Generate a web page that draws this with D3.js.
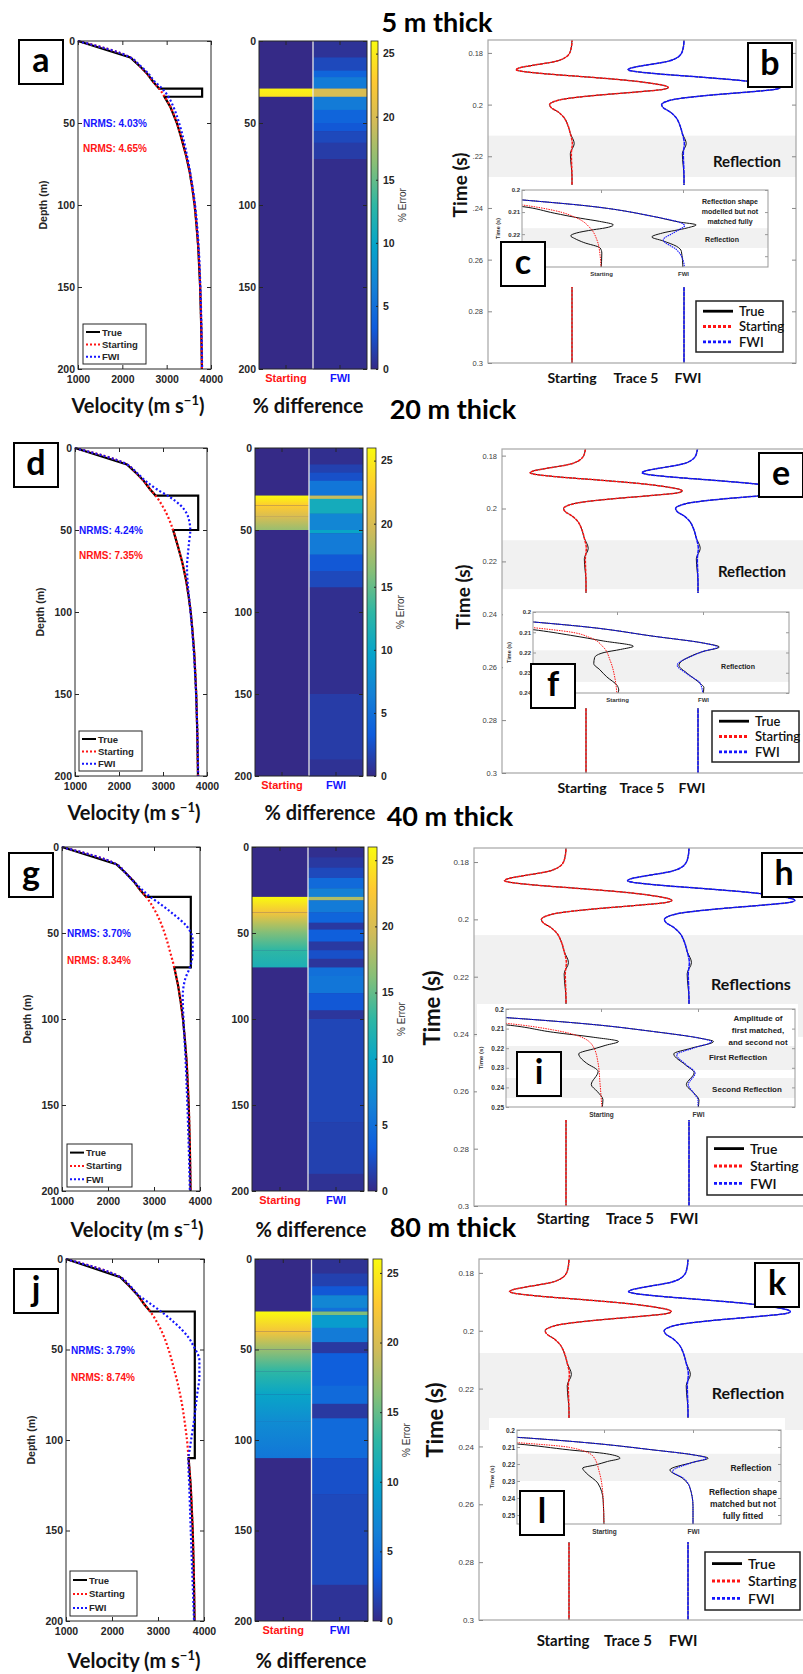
<!DOCTYPE html>
<html>
<head>
<meta charset="utf-8">
<script src="https://cdn.jsdelivr.net/npm/d3@7"></script>
<style>
  body { margin: 0; background: #fff; }
  svg { display: block; }
  .mat { font-family: "Liberation Sans", Arial, sans-serif; }
  .cal { font-family: Lato, "Open Sans", sans-serif; font-weight: 700; }
</style>
</head>
<body>
<div id="fig"></div>
<script>
// ---------- velocity models (depth in m, velocity in m/s) ----------
const startDepth = [0, 10, 15, 20, 25, 29, 35, 40, 50, 60, 70, 80, 90, 100, 110, 125, 150, 175, 200];
const startVel   = [1000, 2180, 2380, 2560, 2700, 2830, 2980, 3080, 3230, 3340, 3440, 3520, 3580, 3630, 3665, 3710, 3755, 3780, 3795];

const trueD5  = [0, 10, 15, 20, 25, 29, 29, 34, 34, 40, 50, 60, 70, 80, 90, 100, 110, 125, 150, 175, 200];
const trueV5  = [1000, 2180, 2380, 2560, 2700, 2830, 3800, 3800, 2950, 3080, 3230, 3340, 3440, 3520, 3580, 3630, 3665, 3710, 3755, 3780, 3795];
const trueD20 = [0, 10, 15, 20, 25, 29, 29, 50, 50, 60, 70, 80, 90, 100, 110, 125, 150, 175, 200];
const trueV20 = [1000, 2180, 2380, 2560, 2700, 2830, 3800, 3800, 3230, 3340, 3440, 3520, 3580, 3630, 3665, 3710, 3755, 3780, 3795];
const trueD40 = [0, 10, 15, 20, 25, 29, 29, 70, 70, 80, 90, 100, 110, 125, 150, 175, 200];
const trueV40 = [1000, 2180, 2380, 2560, 2700, 2830, 3800, 3800, 3440, 3520, 3580, 3630, 3665, 3710, 3755, 3780, 3795];
const trueD80 = [0, 10, 15, 20, 25, 29, 29, 110, 110, 125, 150, 175, 200];
const trueV80 = [1000, 2180, 2380, 2560, 2700, 2830, 3800, 3800, 3665, 3710, 3755, 3780, 3795];

const fwiD5  = [0, 10, 15, 20, 25, 29, 35, 40, 50, 60, 70, 80, 100, 125, 150, 175, 200];
const fwiV5  = [1000, 2180, 2400, 2590, 2740, 2900, 3060, 3150, 3280, 3380, 3460, 3530, 3640, 3720, 3760, 3785, 3800];
const fwiD20 = [0, 10, 15, 20, 25, 30, 35, 40, 45, 50, 58, 65, 72, 80, 93, 110, 133, 160, 200];
const fwiV20 = [1000, 2180, 2400, 2600, 2850, 3160, 3400, 3540, 3600, 3620, 3590, 3565, 3545, 3555, 3600, 3660, 3720, 3765, 3800];
const fwiD40 = [0, 10, 15, 19, 25, 29, 34, 39, 46, 54, 62, 70, 77, 87, 100, 120, 139, 170, 200];
const fwiV40 = [1000, 2180, 2380, 2520, 2750, 2920, 3180, 3420, 3710, 3840, 3840, 3780, 3675, 3625, 3640, 3680, 3710, 3750, 3780];
const fwiD80 = [0, 10, 15, 20, 25, 30, 35, 39, 44, 48, 56, 65, 74, 89, 104, 111, 126, 163, 200];
const fwiV80 = [1000, 2180, 2400, 2576, 2850, 3118, 3350, 3516, 3680, 3770, 3900, 3900, 3856, 3784, 3697, 3660, 3680, 3730, 3784];

const nrmsFwi   = ["4.03%", "4.24%", "3.70%", "3.79%"];
const nrmsStart = ["4.65%", "7.35%", "8.34%", "8.74%"];
const velTicks = [1000, 2000, 3000, 4000];
const depthTicks = [0, 50, 100, 150, 200];

// ---------- % error maps (depth stops / error %) ----------
const startErrD5  = [29, 34];
const startErrV5  = [25.5, 24.5];
const startErrD20 = [29, 35, 42, 50];
const startErrV20 = [26, 23, 20, 17];
const startErrD40 = [29, 38, 50, 60, 70];
const startErrV40 = [26, 22, 16, 13, 11.5];
const startErrD80 = [29, 40, 50, 62, 75, 90, 110];
const startErrV80 = [26, 22, 17, 13, 10, 7.5, 5.5];

const fwiErrD5  = [0, 10, 18, 22, 29, 34, 42, 50, 55, 62, 72];
const fwiErrV5  = [0.6, 2, 4, 6, 20, 6, 4, 3, 2, 1.2, 0.2];
const fwiErrD20 = [0, 10, 15, 20, 29, 31, 40, 50, 52, 65, 75, 85, 150, 190];
const fwiErrV20 = [0.3, 1.5, 2.5, 5.5, 19, 11, 7, 10, 6, 3, 2, 0.3, 1.2, 0.5];
const fwiErrD40 = [0, 6, 12, 18, 24, 29, 31, 38, 44, 48, 55, 60, 65, 70, 75, 85, 95, 100, 160, 190];
const fwiErrV40 = [0.3, 1, 2, 4.5, 6.5, 18, 6, 4, 1, 3.5, 1, 2.5, 0.8, 5, 5.5, 3, 0.8, 1.8, 1.5, 0.5];
const fwiErrD80 = [0, 8, 15, 20, 27, 29, 31, 38, 46, 52, 70, 80, 88, 110, 130, 180];
const fwiErrV80 = [0.5, 1.5, 3, 7, 5, 16, 9, 6, 1, 3.5, 4.5, 1, 4.5, 2.5, 2, 0.6];
const errTicks = [0, 5, 10, 15, 20, 25];
const errMax = 26;

// ---------- trace 5 (time in s, amplitude in trace spacings) ----------
const waveT       = [0.170, 0.1751, 0.179, 0.1815, 0.1835, 0.1848, 0.1858, 0.1865, 0.1871, 0.188, 0.1893, 0.1906, 0.1919, 0.1929, 0.1934, 0.1941, 0.1951, 0.1964, 0.1977, 0.199, 0.2, 0.2012, 0.2028, 0.2048, 0.2074, 0.2112, 0.2151, 0.219, 0.228, 0.3];
const waveAmp     = [0, 0, -0.012, -0.05, -0.17, -0.35, -0.47, -0.5, -0.45, -0.26, 0.13, 0.49, 0.73, 0.845, 0.86, 0.815, 0.58, 0.22, -0.05, -0.17, -0.2, -0.185, -0.125, -0.075, -0.042, -0.015, 0.003, -0.006, 0, 0];
const trueWaveAmp = [0, 0, -0.012, -0.05, -0.17, -0.35, -0.47, -0.5, -0.45, -0.26, 0.13, 0.49, 0.73, 0.845, 0.86, 0.815, 0.58, 0.22, -0.05, -0.17, -0.2, -0.185, -0.125, -0.075, -0.042, -0.015, 0.02, -0.015, 0, 0];
const traceTicks = [0.18, 0.2, 0.22, 0.24, 0.26, 0.28, 0.3];
const traceTickText5 = ["0.18", "0.2", ".22", ".24", "0.26", "0.28", "0.3"];
const insetTicks = [0.2, 0.21, 0.22, 0.23, 0.24, 0.25];

// inset zooms: [time, amplitude]
const insTrueStart5 = [[0.203, -2.4], [0.2075, -0.96], [0.2105, -0.57], [0.2128, -0.25], [0.2142, -0.02], [0.2158, 0.15], [0.2172, 0.05], [0.218, -0.09], [0.2195, -0.3], [0.2208, -0.37], [0.222, -0.32], [0.2238, -0.21], [0.2263, -0.01], [0.2286, 0.01], [0.236, 0]];
const insStart5     = [[0.202, -2.4], [0.2068, -0.96], [0.2093, -0.57], [0.2128, -0.29], [0.2173, -0.13], [0.2226, -0.05], [0.23, -0.01], [0.236, 0]];
const insTrueFwi5   = [[0.2, -3.5], [0.2045, -1.96], [0.2072, -1.17], [0.212, -0.36], [0.2145, -0.05], [0.2158, 0.16], [0.2172, 0.05], [0.2195, -0.25], [0.2213, -0.38], [0.223, -0.25], [0.2255, -0.08], [0.2278, -0.02], [0.236, 0]];
const insFwi5       = [[0.2, -3.5], [0.2045, -1.96], [0.2072, -1.17], [0.212, -0.36], [0.2147, -0.04], [0.2162, 0.02], [0.218, -0.05], [0.2195, -0.12], [0.2226, -0.24], [0.227, -0.08], [0.2316, 0], [0.236, 0.02]];

const insTrueStart20 = [[0.203, -2.5], [0.2087, -0.98], [0.2115, -0.54], [0.2143, -0.16], [0.2169, 0.19], [0.2185, 0.04], [0.22, -0.15], [0.2225, -0.26], [0.2255, -0.27], [0.2285, -0.2], [0.232, -0.12], [0.2362, 0], [0.2385, 0.02], [0.241, 0]];
const insStart20     = [[0.202, -2.5], [0.2077, -0.98], [0.2099, -0.54], [0.2127, -0.31], [0.2173, -0.16], [0.2239, -0.08], [0.2337, -0.02], [0.241, 0]];
const insTrueFwi20   = [[0.2, -3.5], [0.2049, -1.98], [0.2074, -1.35], [0.212, -0.57], [0.2153, 0], [0.2173, 0.19], [0.2195, 0], [0.2214, -0.12], [0.2263, -0.28], [0.2304, -0.18], [0.2354, -0.03], [0.2372, 0.01], [0.241, 0]];
const insFwi20       = [[0.2, -3.5], [0.2049, -1.98], [0.2074, -1.35], [0.212, -0.57], [0.2153, 0], [0.2173, 0.17], [0.2195, 0], [0.2214, -0.11], [0.2263, -0.3], [0.2304, -0.19], [0.2354, -0.03], [0.241, 0]];

const insTrueStart40 = [[0.203, -2.5], [0.2081, -0.98], [0.2119, -0.49], [0.2144, -0.08], [0.2166, 0.18], [0.2185, 0.05], [0.22, -0.05], [0.2229, -0.23], [0.2255, -0.2], [0.2276, -0.15], [0.2319, -0.03], [0.2386, -0.1], [0.242, -0.04], [0.2463, 0.02], [0.251, 0.01]];
const insStart40     = [[0.202, -2.5], [0.2073, -0.98], [0.2107, -0.49], [0.214, -0.22], [0.2192, -0.08], [0.2276, -0.03], [0.238, -0.01], [0.251, 0.01]];
const insTrueFwi40   = [[0.2, -3.5], [0.2044, -1.98], [0.2076, -1.15], [0.2115, -0.46], [0.2149, 0.02], [0.2166, 0.16], [0.22, -0.07], [0.2229, -0.25], [0.2285, -0.13], [0.2325, -0.04], [0.2386, -0.12], [0.2425, -0.05], [0.2465, 0.01], [0.251, 0]];
const insFwi40       = [[0.2, -3.5], [0.2044, -1.98], [0.2076, -1.15], [0.2115, -0.46], [0.2149, 0.02], [0.2166, 0.14], [0.22, -0.05], [0.2234, -0.22], [0.2285, -0.12], [0.2327, -0.03], [0.2386, -0.1], [0.2425, -0.05], [0.2465, 0], [0.251, 0]];

const insTrueStart80 = [[0.203, -2.5], [0.2082, -0.98], [0.2117, -0.39], [0.214, 0.03], [0.2166, 0.18], [0.2185, 0.04], [0.2205, -0.09], [0.2224, -0.24], [0.2253, -0.2], [0.2312, -0.07], [0.241, -0.01], [0.256, 0]];
const insStart80     = [[0.202, -2.5], [0.2074, -0.98], [0.2102, -0.39], [0.2156, -0.12], [0.2253, -0.05], [0.24, -0.01], [0.256, 0]];
const insTrueFwi80   = [[0.2, -3.5], [0.2043, -1.98], [0.2074, -1.21], [0.2117, -0.45], [0.2146, 0], [0.2166, 0.17], [0.219, 0], [0.2235, -0.26], [0.2283, -0.12], [0.2331, -0.04], [0.245, 0], [0.256, 0]];
const insFwi80       = [[0.2, -3.5], [0.2043, -1.98], [0.2074, -1.21], [0.2117, -0.45], [0.2146, 0], [0.2166, 0.15], [0.219, 0], [0.2244, -0.23], [0.2283, -0.11], [0.2331, -0.04], [0.245, 0], [0.256, 0]];

// parula-like colormap
const parula = ["#352a87", "#0f5cdd", "#1481d6", "#06a4ca", "#2eb7a4", "#87bf77", "#d1bb59", "#fec832", "#f9fb0e"];
const errColor = d3.scaleLinear()
    .domain(parula.map((c, i) => i / (parula.length - 1) * errMax))
    .range(parula)
    .clamp(true);

const RED = "#ff1414", BLUE = "#1414ff";

// ---------- layout of the four rows ----------
const rows = [
  {
    title: "5 m thick", titlePos: [437, 32], velLab: [138, 413], diffLab: [308, 413],
    trueD: trueD5, trueV: trueV5, fwiD: fwiD5, fwiV: fwiV5,
    sErrD: startErrD5, sErrV: startErrV5, fErrD: fwiErrD5, fErrV: fwiErrV5,
    ins: [insTrueStart5, insStart5, insTrueFwi5, insFwi5],
    vel: { x0: 78, x1: 211, y0: 41, y1: 369, leg: [83, 324, 63, 40], nx: 83, redOff: 25, box: [19, 40, "a"] },
    heat: { x0: 259, x1: 367, y0: 41, y1: 369, cb: [371, 378] },
    tr: {
      x0: 488, x1: 796, y0: 40, y1: 363, t0: 0.175, sx: 572, fx: 684, band: [0.212, 0.228],
      tickText: traceTickText5, timeLab: [460, 185, 19], bottom: [383, 572, 636, 688, 14],
      refl: ["Reflection", 747, 167, 15], legend: [696, 301, 87, 51, 13],
      boxes: [[748, 43, "b"], [501, 242, "c"]],
      inset: { x0: 522, x1: 768, y0: 190, y1: 267, t1: 0.2349, labelMax: 0.22, sx: 601, fx: 683, bg: [495, 185, 278, 102],
               bands: [[0.2173, 0.2263]], fs: 6,
               notes: [[["Reflection shape", "modelled but not", "matched fully"], 730, 204, 10, 7], [["Reflection"], 722, 242, 0, 7]] }
    }
  },
  {
    title: "20 m thick", titlePos: [453, 419], velLab: [134, 820], diffLab: [320, 820],
    trueD: trueD20, trueV: trueV20, fwiD: fwiD20, fwiV: fwiV20,
    sErrD: startErrD20, sErrV: startErrV20, fErrD: fwiErrD20, fErrV: fwiErrV20,
    ins: [insTrueStart20, insStart20, insTrueFwi20, insFwi20],
    vel: { x0: 75, x1: 207, y0: 448, y1: 776, leg: [79, 731, 63, 40], nx: 79, redOff: 25, box: [14, 443, "d"] },
    heat: { x0: 255, x1: 363, y0: 448, y1: 776, cb: [367, 376] },
    tr: {
      x0: 502, x1: 812, y0: 449, y1: 773, t0: 0.1775, sx: 586, fx: 698, band: [0.212, 0.2305],
      tickText: null, timeLab: [463, 597, 19], bottom: [793, 582, 642, 692, 14],
      refl: ["Reflection", 752, 577, 15], legend: [712, 711, 87, 51, 13],
      boxes: [[759, 453, "e"], [531, 664, "f"]],
      inset: { x0: 533, x1: 789, y0: 612, y1: 693, t1: 0.24, labelMax: 0.24, sx: 617, fx: 703, bg: [503, 593, 296, 115],
               bands: [[0.2189, 0.2345]], fs: 6,
               notes: [[["Reflection"], 738, 669, 0, 7]] }
    }
  },
  {
    title: "40 m thick", titlePos: [450, 826], velLab: [137, 1237], diffLab: [311, 1237],
    trueD: trueD40, trueV: trueV40, fwiD: fwiD40, fwiV: fwiV40,
    sErrD: startErrD40, sErrV: startErrV40, fErrD: fwiErrD40, fErrV: fwiErrV40,
    ins: [insTrueStart40, insStart40, insTrueFwi40, insFwi40],
    vel: { x0: 62, x1: 200, y0: 847, y1: 1191, leg: [67, 1144, 65, 43], nx: 67, redOff: 27, box: [9, 853, "g"] },
    heat: { x0: 252, x1: 364, y0: 847, y1: 1191, cb: [368, 377] },
    tr: {
      x0: 474, x1: 812, y0: 848, y1: 1206, t0: 0.1751, sx: 566, fx: 689, band: [0.2055, 0.241],
      tickText: null, timeLab: [432, 1008, 22], bottom: [1224, 563, 630, 684, 15],
      refl: ["Reflections", 751, 990, 16], legend: [707, 1137, 100, 58, 14],
      boxes: [[762, 853, "h"], [517, 1052, "i"]],
      inset: { x0: 506, x1: 795, y0: 1009, y1: 1107, t1: 0.25, labelMax: 0.25, sx: 601, fx: 698, bg: [477, 1004, 321, 116],
               bands: [[0.2189, 0.2311], [0.2352, 0.2454]], fs: 6.5,
               notes: [[["Amplitude of", "first matched,", "and second not"], 758, 1021, 12, 8],
                       [["First Reflection"], 738, 1060, 0, 8], [["Second Reflection"], 747, 1092, 0, 8]] }
    }
  },
  {
    title: "80 m thick", titlePos: [453, 1237], velLab: [134, 1668], diffLab: [311, 1668],
    trueD: trueD80, trueV: trueV80, fwiD: fwiD80, fwiV: fwiV80,
    sErrD: startErrD80, sErrV: startErrV80, fErrD: fwiErrD80, fErrV: fwiErrV80,
    ins: [insTrueStart80, insStart80, insTrueFwi80, insFwi80],
    vel: { x0: 66, x1: 204, y0: 1259, y1: 1621, leg: [70, 1571, 67, 45], nx: 71, redOff: 27, box: [14, 1269, "j"] },
    heat: { x0: 255, x1: 368, y0: 1259, y1: 1621, cb: [373, 382] },
    tr: {
      x0: 479, x1: 812, y0: 1259, y1: 1620, t0: 0.1752, sx: 569, fx: 688, band: [0.2077, 0.2343],
      tickText: null, timeLab: [435, 1420, 22], bottom: [1646, 563, 628, 683, 15],
      refl: ["Reflection", 748, 1399, 16], legend: [705, 1552, 95, 58, 14],
      boxes: [[755, 1263, "k"], [520, 1491, "l"]],
      inset: { x0: 517, x1: 781, y0: 1430, y1: 1524, t1: 0.2553, labelMax: 0.25, sx: 604, fx: 693, bg: [489, 1418, 296, 124],
               bands: [[0.214, 0.23]], fs: 6.5,
               notes: [[["Reflection"], 751, 1471, 0, 8.5], [["Reflection shape", "matched but not", "fully fitted"], 743, 1495, 12, 8.5]] }
    }
  }
];

const svg = d3.select("#fig").append("svg").attr("width", 803).attr("height", 1674);
const defs = svg.append("defs");

// colorbar gradient
const cbGrad = defs.append("linearGradient").attr("id", "cbgrad")
    .attr("x1", 0).attr("y1", 1).attr("x2", 0).attr("y2", 0);
cbGrad.selectAll("stop").data(parula).join("stop")
    .attr("offset", (d, i) => i / (parula.length - 1))
    .attr("stop-color", d => d);

function styleAxis(sel, fs, col) {
    sel.select(".domain").remove();
    sel.selectAll(".tick line").attr("stroke", "#262626");
    sel.selectAll(".tick text")
        .attr("class", "mat")
        .style("font-size", fs + "px")
        .style("font-weight", "bold")
        .attr("fill", col || "#262626");
}

function labelBox(g, x, y, letter, s) {
    s = s || 44;
    g.append("rect").attr("x", x).attr("y", y).attr("width", s).attr("height", s)
        .attr("fill", "#fff").attr("stroke", "#000").attr("stroke-width", 2);
    g.append("text").attr("class", "cal").attr("x", x + s / 2).attr("y", y + s * 0.72)
        .attr("text-anchor", "middle").style("font-size", "34px").attr("fill", "#000").text(letter);
}

function drawVelocity(r) {
    const L = r.vel;
    const g = svg.append("g");
    const x = d3.scaleLinear().domain([1000, 4000]).range([L.x0, L.x1]);
    const y = d3.scaleLinear().domain([0, 200]).range([L.y0, L.y1]);

    g.append("path").datum(d3.zip(r.trueD, r.trueV))
        .attr("d", d3.line().x(d => x(d[1])).y(d => y(d[0])))
        .attr("fill", "none").attr("stroke", "#000").attr("stroke-width", 2.2);

    const smooth = d3.line().x(d => x(d[1])).y(d => y(d[0])).curve(d3.curveMonotoneY);
    g.append("path").datum(d3.zip(startDepth, startVel)).attr("d", smooth)
        .attr("fill", "none").attr("stroke", RED).attr("stroke-width", 2.2).attr("stroke-dasharray", "2,2.2");
    g.append("path").datum(d3.zip(r.fwiD, r.fwiV)).attr("d", smooth)
        .attr("fill", "none").attr("stroke", BLUE).attr("stroke-width", 2.2).attr("stroke-dasharray", "2,2.2");

    // frame and inward ticks
    g.append("rect").attr("x", L.x0).attr("y", L.y0).attr("width", L.x1 - L.x0).attr("height", L.y1 - L.y0)
        .attr("fill", "none").attr("stroke", "#262626").attr("stroke-width", 1);
    styleAxis(g.append("g").attr("transform", `translate(0,${L.y1})`)
        .call(d3.axisBottom(x).tickValues(velTicks).tickSize(-4).tickPadding(7).tickFormat(d3.format("d"))), 10.5);
    styleAxis(g.append("g").attr("transform", `translate(0,${L.y0})`)
        .call(d3.axisTop(x).tickValues(velTicks).tickSize(-4).tickFormat("")), 10.5);
    styleAxis(g.append("g").attr("transform", `translate(${L.x0},0)`)
        .call(d3.axisLeft(y).tickValues(depthTicks).tickSize(-4).tickPadding(3)), 10.5);
    styleAxis(g.append("g").attr("transform", `translate(${L.x1},0)`)
        .call(d3.axisRight(y).tickValues(depthTicks).tickSize(-4).tickFormat("")), 10.5);

    g.append("text").attr("class", "mat")
        .attr("transform", `translate(${L.x0 - 31},${(L.y0 + L.y1) / 2}) rotate(-90)`)
        .attr("text-anchor", "middle").style("font-size", "10.5px").style("font-weight", "bold")
        .attr("fill", "#262626").text("Depth (m)");

    // NRMS
    g.append("text").attr("class", "mat").attr("x", L.nx).attr("y", y(50) + 4)
        .style("font-size", "10px").style("font-weight", "bold").attr("fill", BLUE)
        .text("NRMS: " + r.nrmsF);
    g.append("text").attr("class", "mat").attr("x", L.nx).attr("y", y(50) + 4 + L.redOff)
        .style("font-size", "10px").style("font-weight", "bold").attr("fill", RED)
        .text("NRMS: " + r.nrmsS);

    // legend
    const [lx, ly, lw, lh] = L.leg;
    g.append("rect").attr("x", lx).attr("y", ly).attr("width", lw).attr("height", lh)
        .attr("fill", "#fff").attr("stroke", "#262626").attr("stroke-width", 1);
    const items = [["True", "#000", null], ["Starting", RED, "2,2"], ["FWI", BLUE, "2,2"]];
    items.forEach(([name, col, dash], k) => {
        const yy = ly + lh * (0.2 + k * 0.31);
        g.append("line").attr("x1", lx + 3).attr("x2", lx + 17).attr("y1", yy).attr("y2", yy)
            .attr("stroke", col).attr("stroke-width", 2).attr("stroke-dasharray", dash);
        g.append("text").attr("class", "mat").attr("x", lx + 19).attr("y", yy + 3.5)
            .style("font-size", "9.5px").style("font-weight", "bold").attr("fill", "#262626").text(name);
    });

    labelBox(g, L.box[0], L.box[1], L.box[2]);
}

function drawHeat(r, i) {
    const Hm = r.heat;
    const g = svg.append("g");
    const y = d3.scaleLinear().domain([0, 200]).range([Hm.y0, Hm.y1]);
    const xb = d3.scaleBand().domain(["Starting", "FWI"]).range([Hm.x0, Hm.x1]);

    g.append("rect").attr("x", Hm.x0).attr("y", Hm.y0).attr("width", Hm.x1 - Hm.x0).attr("height", Hm.y1 - Hm.y0)
        .attr("fill", errColor(0));

    // starting column: smooth ramps between depth stops
    const segs = r.sErrD.slice(0, -1).map((d, k) => [d, r.sErrD[k + 1], r.sErrV[k], r.sErrV[k + 1]]);
    segs.forEach(([d0, d1, v0, v1], k) => {
        const id = `sg${i}_${k}`;
        const gr = defs.append("linearGradient").attr("id", id).attr("x1", 0).attr("y1", 0).attr("x2", 0).attr("y2", 1);
        gr.append("stop").attr("offset", 0).attr("stop-color", errColor(v0));
        gr.append("stop").attr("offset", 1).attr("stop-color", errColor(v1));
        g.append("rect").attr("x", xb("Starting")).attr("y", y(d0))
            .attr("width", xb.bandwidth()).attr("height", y(d1) - y(d0)).attr("fill", `url(#${id})`);
    });

    // FWI column: bands
    const bands = r.fErrD.map((d, k) => [d, k + 1 < r.fErrD.length ? r.fErrD[k + 1] : 200, r.fErrV[k]]);
    g.selectAll("rect.fwi").data(bands).join("rect").attr("class", "fwi")
        .attr("x", xb("FWI")).attr("y", d => y(d[0]))
        .attr("width", xb.bandwidth()).attr("height", d => y(d[1]) - y(d[0]) + 0.3)
        .attr("fill", d => errColor(d[2]));

    g.append("line").attr("x1", xb("FWI")).attr("x2", xb("FWI")).attr("y1", Hm.y0).attr("y2", Hm.y1)
        .attr("stroke", "#e6e6e6").attr("stroke-width", 1.3);

    g.append("rect").attr("x", Hm.x0).attr("y", Hm.y0).attr("width", Hm.x1 - Hm.x0).attr("height", Hm.y1 - Hm.y0)
        .attr("fill", "none").attr("stroke", "#262626");
    styleAxis(g.append("g").attr("transform", `translate(${Hm.x0},0)`)
        .call(d3.axisLeft(y).tickValues(depthTicks).tickSize(-4).tickPadding(3)), 10.5);
    styleAxis(g.append("g").attr("transform", `translate(${Hm.x1},0)`)
        .call(d3.axisRight(y).tickValues(depthTicks).tickSize(-4).tickFormat("")), 10.5);
    const xAx = g.append("g").attr("transform", `translate(0,${Hm.y1})`)
        .call(d3.axisBottom(xb).tickSize(-4).tickPadding(5));
    styleAxis(xAx, 11);
    xAx.selectAll(".tick text").attr("fill", d => d === "Starting" ? RED : BLUE);
    styleAxis(g.append("g").attr("transform", `translate(0,${Hm.y0})`)
        .call(d3.axisTop(xb).tickSize(-4).tickFormat("")), 10);

    // colorbar
    const [c0, c1] = Hm.cb;
    const ce = d3.scaleLinear().domain([0, errMax]).range([Hm.y1, Hm.y0]);
    g.append("rect").attr("x", c0).attr("y", Hm.y0).attr("width", c1 - c0).attr("height", Hm.y1 - Hm.y0)
        .attr("fill", "url(#cbgrad)").attr("stroke", "#262626").attr("stroke-width", 0.8);
    styleAxis(g.append("g").attr("transform", `translate(${c1},0)`)
        .call(d3.axisRight(ce).tickValues(errTicks).tickSize(-2).tickPadding(5)), 10.5);
    g.append("text").attr("class", "mat")
        .attr("transform", `translate(${c1 + 28},${(Hm.y0 + Hm.y1) / 2}) rotate(-90)`)
        .attr("text-anchor", "middle").style("font-size", "10px").attr("fill", "#333").text("% Error");
}

function drawTrace(r, i) {
    const P = r.tr;
    const g = svg.append("g");
    const t = d3.scaleLinear().domain([P.t0, 0.3]).range([P.y0, P.y1]);
    const xi = d3.scaleLinear().domain([0, 1]).range([P.sx, P.fx]);

    defs.append("clipPath").attr("id", "mc" + i).append("rect")
        .attr("x", P.x0).attr("y", P.y0).attr("width", P.x1 - P.x0).attr("height", P.y1 - P.y0);
    const body = g.append("g").attr("clip-path", `url(#mc${i})`);
    body.append("rect").attr("x", P.x0).attr("y", t(P.band[0]))
        .attr("width", P.x1 - P.x0).attr("height", t(P.band[1]) - t(P.band[0])).attr("fill", "#f1f1f1");

    const traceLine = base => d3.line().x(d => xi(base + d[1])).y(d => t(d[0])).curve(d3.curveMonotoneY);
    [[0, RED, "3,1"], [1, BLUE, "4,0.7"]].forEach(([b, col, dash]) => {
        body.append("path").datum(d3.zip(waveT, trueWaveAmp)).attr("d", traceLine(b))
            .attr("fill", "none").attr("stroke", "#111").attr("stroke-width", 1);
        body.append("path").datum(d3.zip(waveT, waveAmp)).attr("d", traceLine(b))
            .attr("fill", "none").attr("stroke", col).attr("stroke-width", 1.5).attr("stroke-dasharray", dash);
    });

    // main frame and ticks
    g.append("rect").attr("x", P.x0).attr("y", P.y0).attr("width", P.x1 - P.x0).attr("height", P.y1 - P.y0)
        .attr("fill", "none").attr("stroke", "#a6a6a6").attr("stroke-width", 1.2);
    const fmt = d3.format(".2~f");
    const lAx = g.append("g").attr("transform", `translate(${P.x0},0)`)
        .call(d3.axisLeft(t).tickValues(traceTicks).tickSize(-4).tickPadding(5)
            .tickFormat((d, k) => P.tickText ? P.tickText[k] : fmt(d)));
    styleAxis(lAx, i < 2 ? 7.5 : 8, "#404040");
    lAx.selectAll(".tick text").style("font-weight", "normal");
    lAx.selectAll(".tick line").attr("stroke", "#888");
    const rAx = g.append("g").attr("transform", `translate(${P.x1},0)`)
        .call(d3.axisRight(t).tickValues(traceTicks).tickSize(-4).tickFormat(""));
    styleAxis(rAx, 7);
    rAx.selectAll(".tick line").attr("stroke", "#888");

    // inset
    const I = P.inset;
    const ti = d3.scaleLinear().domain([0.2, I.t1]).range([I.y0, I.y1]);
    const xn = d3.scaleLinear().domain([0, 1]).range([I.sx, I.fx]);
    g.append("rect").attr("x", I.bg[0]).attr("y", I.bg[1]).attr("width", I.bg[2]).attr("height", I.bg[3]).attr("fill", "#fff");
    defs.append("clipPath").attr("id", "ic" + i).append("rect")
        .attr("x", I.x0).attr("y", I.y0).attr("width", I.x1 - I.x0).attr("height", I.y1 - I.y0);
    const ib = g.append("g").attr("clip-path", `url(#ic${i})`);
    I.bands.forEach(([a, b]) => {
        ib.append("rect").attr("x", I.x0).attr("y", ti(a)).attr("width", I.x1 - I.x0)
            .attr("height", ti(b) - ti(a)).attr("fill", "#f1f1f1");
    });
    const insLine = base => d3.line().x(d => xn(base + d[1])).y(d => ti(d[0])).curve(d3.curveMonotoneY);
    const [iTS, iS, iTF, iF] = r.ins;
    ib.append("path").datum(iTS).attr("d", insLine(0)).attr("fill", "none").attr("stroke", "#111").attr("stroke-width", 1);
    ib.append("path").datum(iS).attr("d", insLine(0)).attr("fill", "none").attr("stroke", RED).attr("stroke-width", 1).attr("stroke-dasharray", "1.5,1");
    ib.append("path").datum(iTF).attr("d", insLine(1)).attr("fill", "none").attr("stroke", "#111").attr("stroke-width", 1);
    ib.append("path").datum(iF).attr("d", insLine(1)).attr("fill", "none").attr("stroke", BLUE).attr("stroke-width", 1.1).attr("stroke-dasharray", "1.5,0.8");

    g.append("rect").attr("x", I.x0).attr("y", I.y0).attr("width", I.x1 - I.x0).attr("height", I.y1 - I.y0)
        .attr("fill", "none").attr("stroke", "#999").attr("stroke-width", 1);
    const iTicks = insetTicks.filter(v => v <= I.t1 + 1e-9);
    const ilAx = g.append("g").attr("transform", `translate(${I.x0},0)`)
        .call(d3.axisLeft(ti).tickValues(iTicks).tickSize(-3).tickPadding(2)
            .tickFormat(d => d <= I.labelMax + 1e-9 ? fmt(d) : ""));
    styleAxis(ilAx, I.fs, "#333");
    ilAx.selectAll(".tick line").attr("stroke", "#999");
    const irAx = g.append("g").attr("transform", `translate(${I.x1},0)`)
        .call(d3.axisRight(ti).tickValues(iTicks).tickSize(-3).tickFormat(""));
    irAx.select(".domain").remove();
    irAx.selectAll(".tick line").attr("stroke", "#999");
    const ibAx = g.append("g").attr("transform", `translate(0,${I.y1})`)
        .call(d3.axisBottom(xn).tickValues([0, 1]).tickSize(0).tickPadding(5).tickFormat((d, k) => ["Starting", "FWI"][k]));
    styleAxis(ibAx, I.fs, "#333");
    const itAx = g.append("g").attr("transform", `translate(0,${I.y0})`)
        .call(d3.axisTop(xn).tickValues([0, 1]).tickSize(-3).tickFormat(""));
    itAx.select(".domain").remove();
    itAx.selectAll(".tick line").attr("stroke", "#999");
    g.append("text").attr("class", "mat")
        .attr("transform", `translate(${I.x0 - 3.6 * I.fs},${(I.y0 + I.y1) / 2}) rotate(-90)`)
        .attr("text-anchor", "middle").style("font-size", (I.fs - 0.5) + "px").style("font-weight", "bold")
        .attr("fill", "#333").text("Time (s)");
    I.notes.forEach(([lines, nx, ny, dy, fs]) => {
        lines.forEach((ln, k) => {
            g.append("text").attr("class", "mat").attr("x", nx).attr("y", ny + k * dy)
                .attr("text-anchor", "middle").style("font-size", fs + "px").style("font-weight", "bold")
                .attr("fill", "#222").text(ln);
        });
    });

    // main labels
    g.append("text").attr("class", "cal").attr("x", P.refl[1]).attr("y", P.refl[2])
        .attr("text-anchor", "middle").style("font-size", P.refl[3] + "px").attr("fill", "#111").text(P.refl[0]);
    g.append("text").attr("class", "cal")
        .attr("transform", `translate(${P.timeLab[0] + P.timeLab[2] * 0.35},${P.timeLab[1]}) rotate(-90)`)
        .attr("text-anchor", "middle").style("font-size", P.timeLab[2] + "px").attr("fill", "#111").text("Time (s)");
    const [by, bx1, bx2, bx3, bfs] = P.bottom;
    [["Starting", bx1], ["Trace 5", bx2], ["FWI", bx3]].forEach(([txt, bx]) => {
        g.append("text").attr("class", "cal").attr("x", bx).attr("y", by).attr("text-anchor", "middle")
            .style("font-size", bfs + "px").attr("fill", "#111").text(txt);
    });

    // legend
    const [lx, ly, lw, lh, lfs] = P.legend;
    g.append("rect").attr("x", lx).attr("y", ly).attr("width", lw).attr("height", lh)
        .attr("fill", "#fff").attr("stroke", "#222").attr("stroke-width", 1.5);
    [["True", "#000", null], ["Starting", RED, "3,2"], ["FWI", BLUE, "3,2"]].forEach(([name, col, dash], k) => {
        const yy = ly + lh * (0.2 + k * 0.3);
        g.append("line").attr("x1", lx + 7).attr("x2", lx + 37).attr("y1", yy).attr("y2", yy)
            .attr("stroke", col).attr("stroke-width", 2.8).attr("stroke-dasharray", dash);
        g.append("text").attr("class", "cal").attr("x", lx + 43).attr("y", yy + lfs * 0.38)
            .style("font-size", lfs + "px").style("font-weight", 600).attr("fill", "#111").text(name);
    });

    P.boxes.forEach(([bxx, byy, letter]) => labelBox(g, bxx, byy, letter));
}

function superLabel(x, y, main, sup, tail) {
    const tx = svg.append("text").attr("class", "cal").attr("x", x).attr("y", y)
        .attr("text-anchor", "middle").style("font-size", "20px").attr("fill", "#111");
    tx.append("tspan").text(main);
    tx.append("tspan").attr("dy", -8).style("font-size", "13px").text(sup);
    tx.append("tspan").attr("dy", 8).text(tail);
}

rows.forEach((r, i) => {
    r.nrmsF = nrmsFwi[i];
    r.nrmsS = nrmsStart[i];
    drawHeat(r, i);
    drawVelocity(r);
    drawTrace(r, i);
    svg.append("text").attr("class", "cal").attr("x", r.titlePos[0]).attr("y", r.titlePos[1])
        .attr("text-anchor", "middle").style("font-size", "27px").attr("fill", "#000").text(r.title);
    superLabel(r.velLab[0], r.velLab[1], "Velocity (m s", "\u22121", ")");
    svg.append("text").attr("class", "cal").attr("x", r.diffLab[0]).attr("y", r.diffLab[1])
        .attr("text-anchor", "middle").style("font-size", "20px").attr("fill", "#111").text("% difference");
});
</script>
</body>
</html>
